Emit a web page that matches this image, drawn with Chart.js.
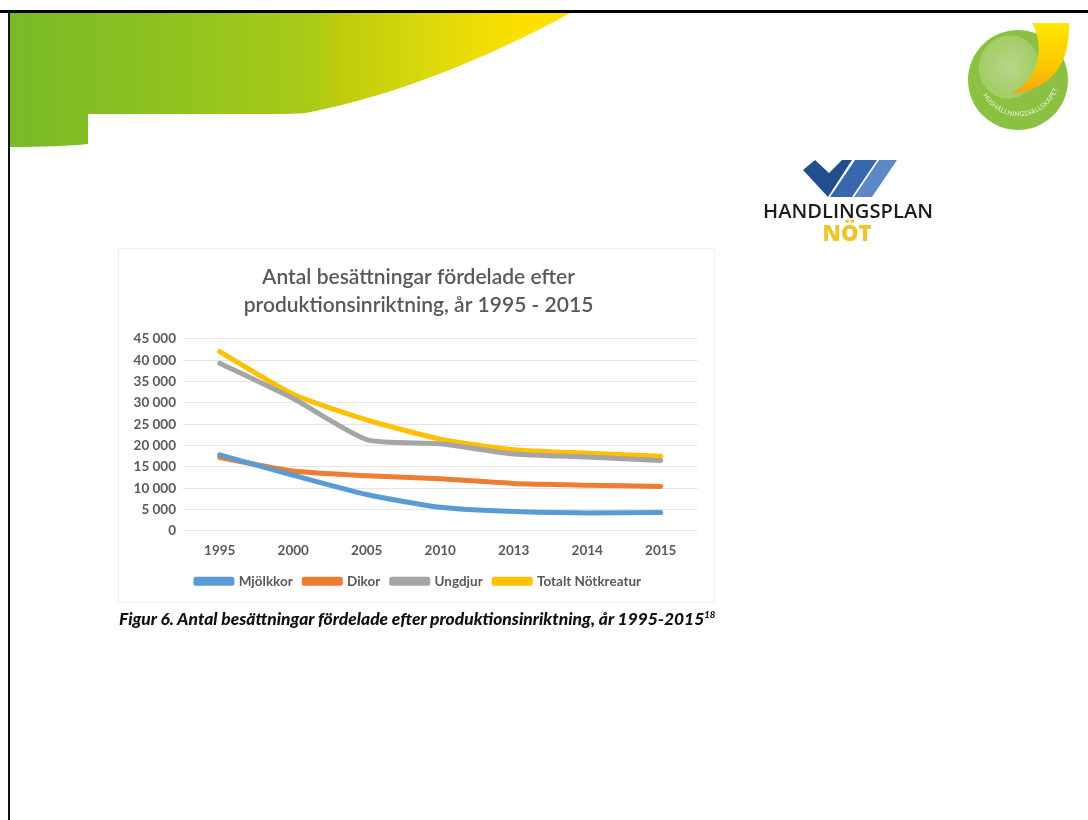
<!DOCTYPE html>
<html><head><meta charset="utf-8">
<style>
html,body{margin:0;padding:0;background:#fff;width:1088px;height:820px;overflow:hidden}
#deco{position:absolute;left:0;top:0;filter:blur(.5px)}
#frame{position:absolute;left:119px;top:249px;width:595px;height:353px;box-shadow:0 0 0 1px #efefef;background:#fff}
#wrap{position:absolute;left:119px;top:249px;width:595px;height:353px;filter:blur(.5px)}
#caption{position:absolute;left:119px;top:608px;font:italic 900 17.4px Lato,sans-serif;color:#111;white-space:nowrap;filter:blur(.4px)}
#caption sup{font-size:9.5px;line-height:0}
</style></head><body>
<svg id="deco" width="1088" height="820" xmlns="http://www.w3.org/2000/svg">
<defs>
<linearGradient id="g" x1="9" x2="560" y1="0" y2="0" gradientUnits="userSpaceOnUse">
<stop offset="0" stop-color="#79b928"/><stop offset=".3" stop-color="#8fc31f"/><stop offset=".55" stop-color="#a9cb17"/><stop offset=".6" stop-color="#bfcb0c"/><stop offset=".72" stop-color="#d2d70c"/><stop offset=".93" stop-color="#fde000"/><stop offset="1" stop-color="#ffe000"/>
</linearGradient>
<linearGradient id="sw" x1="0" x2="0" y1="0" y2="1"><stop offset="0" stop-color="#ffe600"/><stop offset=".6" stop-color="#fcc800"/><stop offset="1" stop-color="#f4a410"/></linearGradient>
<radialGradient id="inner" cx=".5" cy=".5" r=".6"><stop offset="0" stop-color="#b8d68a"/><stop offset="1" stop-color="#9ccb5c"/></radialGradient>
<path id="arc" d="M 983 95 A 41 41 0 0 0 1059 84"/>
</defs>
<path d="M9 12 H572 C500 52 400 95 306 113 Q295 114 270 114 H88 V144 Q60 147 9 147 Z" fill="url(#g)"/>
<rect x="0" y="10" width="1088" height="3" fill="#000"/>
<rect x="8" y="10" width="2" height="810" fill="#111"/>
<circle cx="1018" cy="80" r="50" fill="#8cc043"/>
<ellipse cx="1009" cy="67" rx="30" ry="32" fill="url(#inner)" transform="rotate(20 1009 67)"/>
<path d="M1032 23 H1069 C1070 60 1055 90 1010 94 C1040 80 1045 45 1032 23 Z" fill="url(#sw)"/>
<text font-family="Lato,sans-serif" font-size="6.5" fill="#e8f2d4" letter-spacing=".3"><textPath href="#arc">HUSHÅLLNINGSSÄLLSKAPET</textPath></text>
<polygon points="803,170 815,160 829,173 842,160 852,160 828,197" fill="#234f8f"/>
<polygon points="855,160 877,160 852,197 830,197" fill="#3867ad"/>
<polygon points="879,160 897,160 872,197 854,197" fill="#5d88c6"/>
<text x="848" y="218" text-anchor="middle" font-family="'Open Sans',sans-serif" font-weight="600" font-size="19.5" fill="#1c1c1c" textLength="170" lengthAdjust="spacingAndGlyphs">HANDLINGSPLAN</text>
<text x="847" y="241" text-anchor="middle" font-family="'Open Sans',sans-serif" font-weight="800" font-size="22" fill="#ecc52a">NÖT</text>
</svg>
<div id="frame"></div>
<div id="wrap"><canvas id="c" width="595" height="353"></canvas></div>
<div id="caption">Figur 6. Antal besättningar fördelade efter produktionsinriktning, år 1995-2015<sup>18</sup></div>
<script src="https://cdn.jsdelivr.net/npm/chart.js@4"></script>
<script>
const years = ['1995','2000','2005','2010','2013','2014','2015'];
const mjolkkor = [17800,13000,8500,5500,4500,4200,4300];
const dikor = [17200,14000,12900,12200,11100,10700,10400];
const ungdjur = [39300,31000,21400,20400,18000,17300,16500];
const totalt = [42000,32000,26000,21500,19000,18200,17500];
const titleLines = ['Antal besättningar fördelade efter','produktionsinriktning, år 1995 - 2015'];
const ds = (label,data,color)=>({label,data,borderColor:color,backgroundColor:color,borderWidth:5,pointRadius:0,tension:0.2,borderCapStyle:'round',borderJoinStyle:'round',yAxisID:'y'});
const tickFont = {family:'Lato',size:13.5,weight:'700'};
new Chart(document.getElementById('c'),{
 type:'line',
 data:{labels:years,datasets:[ds('Mjölkkor',mjolkkor,'#5b9bd5'),ds('Dikor',dikor,'#ed7d31'),ds('Ungdjur',ungdjur,'#a5a5a5'),ds('Totalt Nötkreatur',totalt,'#ffc000')]},
 options:{
  responsive:false,animation:false,
  layout:{padding:{left:10,right:6,top:14,bottom:4}},
  plugins:{
   title:{display:true,text:titleLines,color:'#595959',font:{family:'Lato',size:21,weight:'600',lineHeight:1.33},padding:{top:0,bottom:20}},
   legend:{position:'bottom',labels:{boxWidth:36,boxHeight:4,color:'#595959',font:tickFont,padding:11.5}},
   tooltip:{enabled:false}
  },
  scales:{
   x:{offset:true,grid:{display:false,offset:true},border:{display:false},ticks:{color:'#595959',padding:4,maxRotation:0,font:tickFont}},
   y:{min:0,max:45000,border:{display:false},grid:{color:'#e4e4e4',lineWidth:1,drawTicks:false},
      afterFit(a){a.width=54},
      ticks:{stepSize:5000,color:'#595959',padding:7,font:tickFont,callback:v=>String(v).replace(/\B(?=(\d{3})+$)/g,' ')}},
   rightGutter:{position:'right',min:0,max:45000,border:{display:false},grid:{display:false},ticks:{display:false},afterFit(a){a.width=10.5}}
  }
 }
});
</script>
</body></html>
